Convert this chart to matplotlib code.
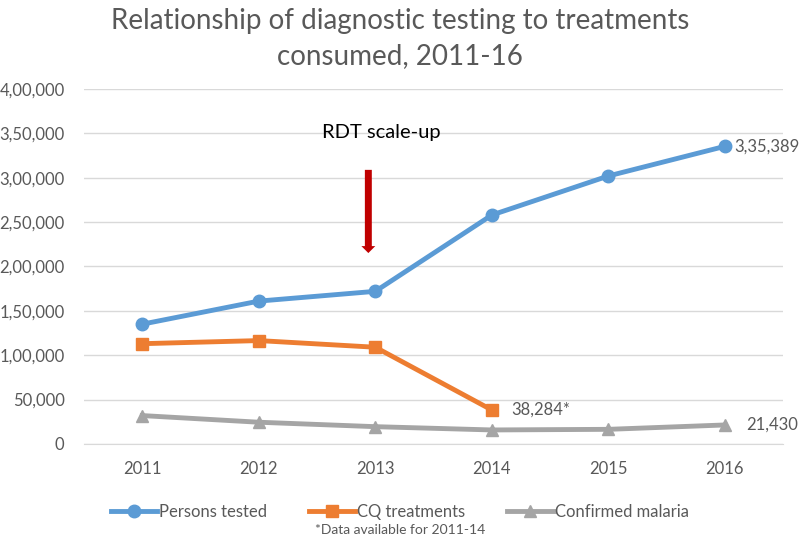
import numpy as np
import matplotlib.pyplot as plt
from matplotlib.ticker import FuncFormatter

plt.rcParams['font.family'] = ['Lato', 'DejaVu Sans']

years = ['2011', '2012', '2013', '2014', '2015', '2016']
persons_tested = [135000, 161000, 172000, 258000, 302000, 335389]
cq_treatments = [113000, 116500, 109000, 38284]
confirmed_malaria = [32000, 24500, 19500, 15800, 16500, 21430]

blue = '#5b9bd5'
orange = '#ed7d31'
grey = '#a5a5a5'
textc = '#595959'


def indian(v, pos=None):
    v = int(round(v))
    if v == 0:
        return '0'
    s = str(v)
    last3 = s[-3:]
    rest = s[:-3]
    parts = []
    while len(rest) > 2:
        parts.insert(0, rest[-2:])
        rest = rest[:-2]
    if rest:
        parts.insert(0, rest)
    return ','.join(parts + [last3])


fig = plt.figure(figsize=(8, 5.39), dpi=100)
ax = fig.add_axes([0.105, 0.1763, 0.874, 0.6586])

x = np.arange(len(years))
ax.plot(x, persons_tested, color=blue, lw=3.5, marker='o', ms=9, label='Persons tested')
ax.plot(x[:len(cq_treatments)], cq_treatments, color=orange, lw=3.5, marker='s', ms=9,
        label='CQ treatments')
ax.plot(x, confirmed_malaria, color=grey, lw=3.5, marker='^', ms=9, label='Confirmed malaria')

ax.set_xlim(-0.5, len(years) - 0.5)
ax.set_ylim(0, 400000)
ax.set_yticks(np.arange(0, 400001, 50000))
ax.yaxis.set_major_formatter(FuncFormatter(indian))
ax.set_xticks(x)
ax.set_xticklabels(years)
ax.tick_params(length=0, colors=textc, labelsize=12)
ax.tick_params(axis='x', pad=12)
ax.tick_params(axis='y', pad=14)
ax.grid(axis='y', color='#d9d9d9', lw=1)
ax.set_axisbelow(True)
for sp in ['top', 'right', 'left']:
    ax.spines[sp].set_visible(False)
ax.spines['bottom'].set_color('#d9d9d9')

# data labels
ax.annotate(indian(persons_tested[-1]), (x[-1], persons_tested[-1]), xytext=(7, 0),
            textcoords='offset points', va='center', ha='left', color=textc, fontsize=12)
ax.annotate(indian(cq_treatments[-1]) + '*', (x[3], cq_treatments[-1]), xytext=(14, 0),
            textcoords='offset points', va='center', ha='left', color=textc, fontsize=12)
ax.annotate(indian(confirmed_malaria[-1]), (x[-1], confirmed_malaria[-1]), xytext=(15, 0),
            textcoords='offset points', va='center', ha='left', color=textc, fontsize=12)

# RDT scale-up arrow
ax.annotate('', xy=(1.94, 212000), xytext=(1.94, 312000),
            arrowprops=dict(arrowstyle='simple,head_length=0.5,head_width=1.0,tail_width=0.5',
                            color='#c00000', lw=0))
ax.text(2.05, 351000, 'RDT scale-up', ha='center', va='center', fontsize=14.5, color='black')

fig.suptitle('Relationship of diagnostic testing to treatments\nconsumed, 2011-16',
             y=0.985, fontsize=20, color=textc, linespacing=1.45)

fig.legend(loc='center', bbox_to_anchor=(0.5, 0.05), ncol=3, frameon=False,
           fontsize=12, labelcolor=textc, handlelength=2.8, columnspacing=2.5,
           handletextpad=0.1)
fig.text(0.5, 0.016, '*Data available for 2011-14', ha='center', va='center',
         fontsize=10, color=textc)

fig.savefig('out.png', dpi=100)
